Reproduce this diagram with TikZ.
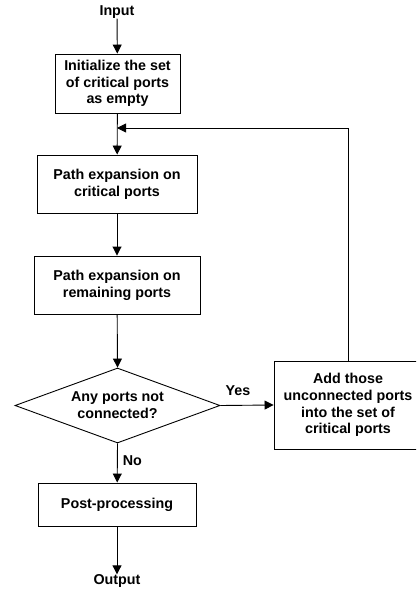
\documentclass[tikz,border=0pt]{standalone}
\usepackage{fontspec}
\setmainfont{Liberation Sans}
\usetikzlibrary{shapes.geometric,arrows.meta}
\begin{document}
\begin{tikzpicture}[x=1pt,y=1pt,
  every node/.style={font=\bfseries\fontsize{14.3}{16.8}\selectfont, align=center, inner sep=0pt},
  procbox/.style={draw, line width=0.9pt, minimum width=#1},
  flow/.style={line width=0.9pt, -{Triangle[length=9pt,width=9pt]}},
  plain/.style={line width=0.9pt}]
\clip (0,0) rectangle (416,-593);
\useasboundingbox (0,0) rectangle (416,-593);
\node (in) at (117,-12) {Input};
\node[procbox=125pt, minimum height=59pt] (b1) at (117.5,-83.5) {Initialize the set\\of critical ports\\as empty};
\node[procbox=160pt, minimum height=58pt] (b2) at (117,-184) {Path expansion on\\critical ports};
\node[procbox=166pt, minimum height=58pt] (b3) at (117,-285) {Path expansion on\\remaining ports};
\node[draw, line width=0.9pt, diamond, aspect=2.73, minimum width=205pt, minimum height=75pt] (d) at (117.5,-405.5) {Any ports not\\connected?};
\node[procbox=148pt, minimum height=88pt] (b4) at (348,-405) {Add those\\unconnected ports\\into the set of\\critical ports};
\node[procbox=158pt, minimum height=43pt] (b5) at (117,-504.5) {Post-processing};
\node (out) at (117,-581) {Output};
\coordinate (m) at (117,-128);
\draw[flow] (in) -- (b1);
\draw[flow] (b1) -- (b2);
\draw[flow] (b2) -- (b3);
\draw[flow] (b3) -- (d.north);
\draw[flow] (d.east) -- node[above=9pt, xshift=-9pt] (yes) {Yes} (b4.west);
\draw[flow] (d.south) -- node[right=5pt, yshift=2pt] (no) {No} (b5);
\draw[flow] (b5) -- (out);
\draw[flow] (b4.north) |- (m);
\end{tikzpicture}
\end{document}
